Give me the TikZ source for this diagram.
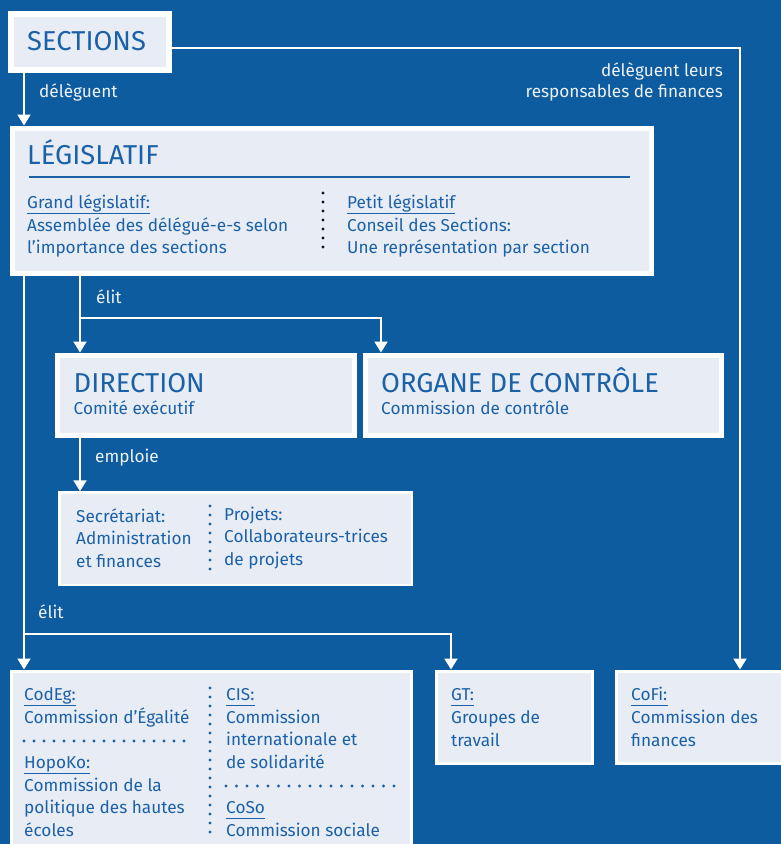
\documentclass[tikz,border=0pt]{standalone}
\usepackage{fontspec}
\setmainfont{Fira Sans}
\usetikzlibrary{arrows.meta,calc}
\definecolor{bg}{HTML}{0D5C9F}
\definecolor{boxfill}{HTML}{E8ECF5}
\definecolor{ink}{HTML}{1B61A7}
\definecolor{lbl}{HTML}{EEF2F8}
\definecolor{dotk}{HTML}{141414}
\newcommand\ulbl[3]{\node[txt] (#1) at (#2) {#3};
  \draw[uline] ([yshift=-5.5pt]#1.base west) -- ([yshift=-5.5pt]#1.base east);}
\begin{document}
\begin{tikzpicture}[x=1pt,y=-1pt,
  box/.style={draw=white, fill=boxfill, inner sep=0pt, anchor=north west},
  title/.style={anchor=base west, inner sep=0pt, text=ink, font=\fontsize{27.3}{27}\selectfont},
  txt/.style={anchor=base west, inner sep=0pt, text=ink, font=\fontsize{17.2}{17}\selectfont},
  lab/.style={anchor=base west, inner sep=0pt, text=lbl, font=\fontsize{17.2}{17}\selectfont},
  link/.style={draw=white, line width=2pt},
  arr/.style={link, -{Triangle[width=13pt,length=11pt]}},
  dots/.style={line width=3.2pt, line cap=round, dash pattern=on 0pt off 9pt},
  uline/.style={draw=ink, line width=1.5pt},
]
\fill[bg] (0,0) rectangle (781,844);
\useasboundingbox (0,0) rectangle (781,844);
\clip (0,0) rectangle (781,844);

% boxes
\node[box, line width=6pt, minimum width=158pt, minimum height=56pt] (sections) at (8,11) {};
\node[box, line width=5pt, minimum width=639pt, minimum height=145pt] (leg) at (9.5,125.5) {};
\node[box, line width=5pt, minimum width=297pt, minimum height=80pt] (dir) at (54.5,352.5) {};
\node[box, line width=5pt, minimum width=356pt, minimum height=80pt] (org) at (362.5,352.5) {};
\node[box, line width=2.5pt, minimum width=352.5pt, minimum height=92.5pt] (sec) at (58.25,491.25) {};
\node[box, line width=3pt, minimum width=400pt, minimum height=220pt] (comm) at (9.5,669.5) {};
\node[box, line width=3pt, minimum width=156pt, minimum height=92pt] (gt) at (434.5,669.5) {};
\node[box, line width=3pt, minimum width=220pt, minimum height=92pt] (cofi) at (614.5,669.5) {};

% connector coordinates
\coordinate (p1) at ([xshift=16pt]sections.south west);
\coordinate (p2) at ([yshift=-6pt]sections.east);
\coordinate (p3) at ([xshift=125.5pt]cofi.north west);
\coordinate (p5) at ([xshift=25.5pt]dir.north west);
\coordinate (p6) at ([xshift=18.5pt]org.north west);
\coordinate (p8) at ([xshift=16.5pt]gt.north west);
\coordinate (b1) at (80,318);
\coordinate (b2) at (24,634);

% connectors
\draw[arr] (p1) -- (p1 |- leg.north);
\draw[arr] (p2) -| (p3);
\draw[arr] (p1 |- leg.south) -- (p1 |- comm.north);
\draw[arr] (p5 |- leg.south) -- (p5);
\draw[arr] (p5 |- b1) -| (p6);
\draw[arr] (p5 |- dir.south) -- (p5 |- sec.north);
\draw[arr] (p1 |- b2) -| (p8);

% labels
\node[lab] (l1) at (39,97) {délèguent};
\node[lab, anchor=base east] (l2) at (723,76) {délèguent leurs};
\node[lab, anchor=base east] (l3) at (723,97) {responsables de finances};
\node[lab] (l4) at (96,303) {élit};
\node[lab] (l5) at (95,462) {emploie};
\node[lab] (l6) at (38,618) {élit};

% SECTIONS
\node[title] (tsec) at (27,50) {SECTIONS};

% LEGISLATIF
\node[title] (tleg) at (27,164) {LÉGISLATIF};
\draw[ink, line width=2pt] (29,177) -- (630,177);
\ulbl{g1}{27,208}{Grand législatif:}
\node[txt] (g2) at (27,231) {Assemblée des délégué-e-s selon};
\node[txt] (g3) at (27,253) {l’importance des sections};
\ulbl{k1}{347,208}{Petit législatif}
\node[txt] (k2) at (347,231) {Conseil des Sections:};
\node[txt] (k3) at (347,253) {Une représentation par section};
\draw[dots, dotk] (323,193) -- (323,250);

% DIRECTION / ORGANE
\node[title] (tdir) at (73.5,392) {DIRECTION};
\node[txt] (d2) at (73.5,414) {Comité exécutif};
\node[title] (torg) at (381,392) {ORGANE DE CONTRÔLE};
\node[txt] (o2) at (381,414) {Commission de contrôle};

% Secretariat
\node[txt] (s1) at (76,522) {Secrétariat:};
\node[txt] (s2) at (76,544) {Administration};
\node[txt] (s3) at (76,567) {et finances};
\node[txt] (r1) at (224,520) {Projets:};
\node[txt] (r2) at (224,542) {Collaborateurs-trices};
\node[txt] (r3) at (224,565) {de projets};
\draw[dots, ink] (210,506) -- (210,570);

% Commissions
\ulbl{c1}{24,700}{CodEg:}
\node[txt] (c2) at (24,723) {Commission d’Égalité};
\draw[dots, ink, dash pattern=on 0pt off 10pt] (24,741) -- (194,741);
\ulbl{c3}{24,768}{HopoKo:}
\node[txt] (c4) at (24,791) {Commission de la};
\node[txt] (c5) at (24,813) {politique des hautes};
\node[txt] (c6) at (24,836) {écoles};
\ulbl{e1}{226,700}{CIS:}
\node[txt] (e2) at (226,723) {Commission};
\node[txt] (e3) at (226,745) {internationale et};
\node[txt] (e4) at (226,768) {de solidarité};
\draw[dots, ink, dash pattern=on 0pt off 10.5pt] (226,786) -- (395,786);
\ulbl{e5}{226,813}{CoSo}
\node[txt] (e6) at (226,836) {Commission sociale};
\draw[dots, ink] (210,688) -- (210,835);

% GT / CoFi
\ulbl{f1}{451,700}{GT:}
\node[txt] (f2) at (451,723) {Groupes de};
\node[txt] (f3) at (451,746) {travail};
\ulbl{h1}{631,700}{CoFi:}
\node[txt] (h2) at (631,723) {Commission des};
\node[txt] (h3) at (631,746) {finances};
\end{tikzpicture}
\end{document}
